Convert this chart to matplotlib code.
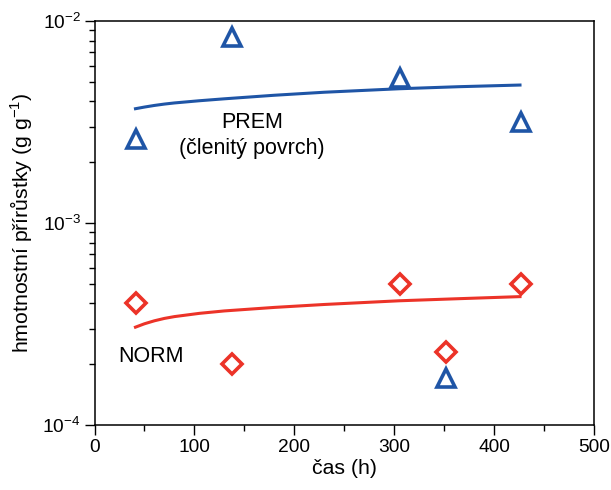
import numpy as np
import matplotlib.pyplot as plt
from matplotlib.ticker import LogLocator, FixedLocator, NullFormatter

plt.rcParams['font.family'] = ['Liberation Sans', 'DejaVu Sans']
plt.rcParams['mathtext.fontset'] = 'custom'
plt.rcParams['mathtext.rm'] = 'Liberation Sans'
plt.rcParams['mathtext.default'] = 'regular'

# measured points
prem_t = [42, 138, 306, 427, 352]
prem_y = [2.6e-3, 8.3e-3, 5.2e-3, 3.15e-3, 1.7e-4]
norm_t = [42, 138, 306, 352, 427]
norm_y = [4.0e-4, 2.0e-4, 5.0e-4, 2.3e-4, 5.0e-4]

# fitted curves
fit_t = [41, 50, 60, 70, 80, 105, 130, 180, 230, 305, 365, 426]
prem_fit = [3.68e-3, 3.75e-3, 3.82e-3, 3.88e-3, 3.93e-3, 4.03e-3, 4.12e-3, 4.29e-3, 4.44e-3, 4.62e-3, 4.73e-3, 4.82e-3]
norm_fit = [3.05e-4, 3.17e-4, 3.28e-4, 3.37e-4, 3.44e-4, 3.57e-4, 3.67e-4, 3.82e-4, 3.95e-4, 4.12e-4, 4.22e-4, 4.32e-4]

blue = '#1f55a6'
red = '#ec3328'

fig = plt.figure(figsize=(6.11, 4.9), dpi=100)
ax = fig.add_axes([0.1547, 0.1327, 0.8173, 0.8244])

ax.plot(fit_t, prem_fit, color=blue, lw=2.2)
ax.plot(fit_t, norm_fit, color=red, lw=2.2)
ax.plot(prem_t, prem_y, ls='none', marker='^', ms=12.5, mfc='white', mec=blue, mew=2.6)
ax.plot(norm_t, norm_y, ls='none', marker='D', ms=10, mfc='white', mec=red, mew=2.6)

ax.set_yscale('log')
ax.set_xlim(0, 500)
ax.set_ylim(1e-4, 1e-2)
ax.set_xticks([0, 100, 200, 300, 400, 500])
ax.xaxis.set_minor_locator(FixedLocator([50, 150, 250, 350, 450]))
ax.yaxis.set_major_locator(LogLocator(base=10, numticks=5))
ax.yaxis.set_minor_locator(LogLocator(base=10, subs=np.arange(2, 10), numticks=20))
ax.yaxis.set_minor_formatter(NullFormatter())

ax.tick_params(which='major', direction='out', length=7, width=1, labelsize=13.8, pad=3)
ax.tick_params(which='minor', direction='out', length=4, width=1)
for s in ax.spines.values():
    s.set_linewidth(1.1)

ax.set_xlabel('čas (h)', fontsize=15.3, labelpad=2)
ax.set_ylabel('hmotnostní přírůstky (g g$^{-1}$)', fontsize=15.3, labelpad=6)

ax.text(157.7, 2.95e-3, 'PREM', ha='center', va='baseline', fontsize=15.5)
ax.text(157.7, 2.2e-3, '(členitý povrch)', ha='center', va='baseline', fontsize=15.5)
ax.text(23.5, 2.04e-4, 'NORM', ha='left', va='baseline', fontsize=15.5)

plt.savefig('out.png', dpi=100)
